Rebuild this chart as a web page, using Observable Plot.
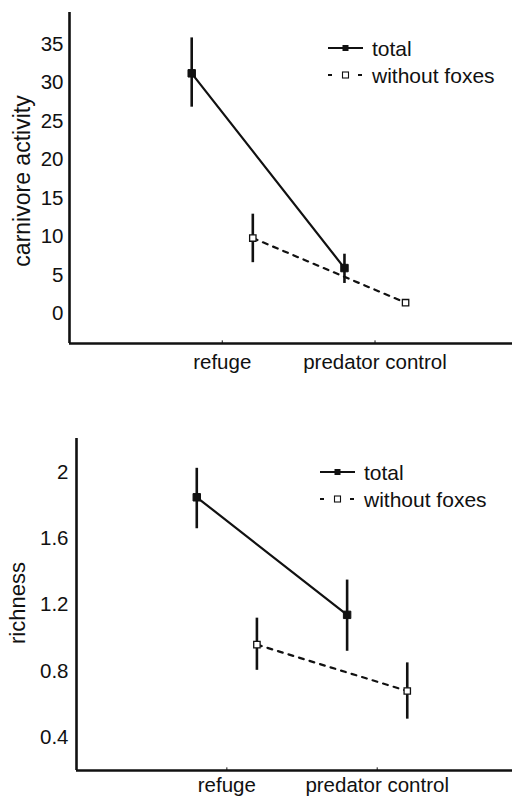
<!DOCTYPE html>
<html><head><meta charset="utf-8">
<script src="https://cdn.jsdelivr.net/npm/d3@7"></script>
<script src="https://cdn.jsdelivr.net/npm/@observablehq/plot@0.6"></script>
<style>
body{margin:0;background:#fff;font-family:"Liberation Sans",Arial,sans-serif;}
#wrap{position:relative;width:512px;height:798px;overflow:hidden;}
#wrap svg{display:block;}
.leg{position:absolute;}
</style></head><body><div id="wrap"></div>
<script>
// ---- data ----
const categories = ["refuge", "predator control"];
const seriesNames = ["total", "without foxes"];

const carnTotal   = [31.2, 5.9];
const carnTotalLo = [26.8, 3.9];
const carnTotalHi = [35.8, 7.7];
const carnNoFox   = [9.8, 1.4];
const carnNoFoxLo = [6.6, 1.2];
const carnNoFoxHi = [12.9, 1.6];
const carnTicks   = [0, 5, 10, 15, 20, 25, 30, 35];

const richTotal   = [1.85, 1.14];
const richTotalLo = [1.66, 0.92];
const richTotalHi = [2.025, 1.35];
const richNoFox   = [0.96, 0.68];
const richNoFoxLo = [0.805, 0.51];
const richNoFoxHi = [1.12, 0.85];
const richTicks   = [0.4, 0.8, 1.2, 1.6, 2];

const FONT = '"Liberation Sans", Arial, sans-serif';
const INK = "#111";

function rows(tot, totLo, totHi, nf, nfLo, nfHi) {
  const out = [];
  categories.forEach((c, i) => {
    out.push({cat: c, idx: i + 1, series: seriesNames[0], x: i + 1 - 0.2, y: tot[i], lo: totLo[i], hi: totHi[i]});
    out.push({cat: c, idx: i + 1, series: seriesNames[1], x: i + 1 + 0.2, y: nf[i], lo: nfLo[i], hi: nfHi[i]});
  });
  return out;
}

function chart(o) {
  const data = o.data;
  const tot = data.filter(d => d.series === seriesNames[0]);
  const nf = data.filter(d => d.series === seriesNames[1]);
  const [y0, y1] = o.yDomain;
  const svg = Plot.plot({
    width: 512,
    height: o.height,
    marginTop: o.marginTop,
    marginBottom: o.marginBottom,
    marginLeft: o.marginLeft,
    marginRight: 0,
    style: {fontFamily: FONT, fontSize: "20.5px", color: INK, background: "white"},
    x: {domain: [0, o.xMax], axis: null},
    y: {domain: o.yDomain, axis: null},
    marks: [
      Plot.axisY({ticks: o.yTicks, tickSize: 0, tickPadding: o.yPad, label: null, tickFormat: o.fmt, fill: INK}),
      Plot.axisX({ticks: [1, 2], tickSize: 0, tickPadding: o.xPad, label: null, tickFormat: d => categories[d - 1], fill: INK}),
      Plot.ruleX([1, 2], {y1: y0, y2: y0 + (y1 - y0) * 0.008, stroke: INK, strokeWidth: 1}),
      Plot.ruleX([0], {y1: y0, y2: y1, stroke: INK, strokeWidth: 2.6}),
      Plot.ruleY([y0], {x1: 0, x2: o.xMax, stroke: INK, strokeWidth: 2.6}),
      Plot.line(tot, {x: "x", y: "y", stroke: INK, strokeWidth: 2.2}),
      Plot.line(nf, {x: "x", y: "y", stroke: INK, strokeWidth: 2.2, strokeDasharray: "5,6"}),
      Plot.ruleX(data, {x: "x", y1: "lo", y2: "hi", stroke: INK, strokeWidth: 2.6}),
      Plot.dot(tot, {x: "x", y: "y", symbol: "square", r: 4.2, fill: INK, stroke: INK, strokeWidth: 1}),
      Plot.dot(nf, {x: "x", y: "y", symbol: "square", r: 3.6, fill: "white", stroke: INK, strokeWidth: 1.3})
    ]
  });
  d3.select(svg).append("text")
    .attr("transform", `translate(${o.labelX},${o.labelY}) rotate(-90)`)
    .attr("text-anchor", "middle")
    .attr("dominant-baseline", "central")
    .attr("font-size", o.labelSize)
    .attr("fill", INK)
    .text(o.yLabel);
  return svg;
}

function legend(x, y) {
  const s = d3.create("svg").attr("class", "leg").attr("width", 190).attr("height", 60)
    .style("left", x + "px").style("top", y + "px").style("position", "absolute");
  s.append("line").attr("x1", 0).attr("x2", 35).attr("y1", 14).attr("y2", 14).attr("stroke", INK).attr("stroke-width", 2.2);
  s.append("rect").attr("x", 14.5).attr("y", 11).attr("width", 6).attr("height", 6).attr("fill", INK);
  s.append("text").attr("x", 44).attr("y", 14).attr("dominant-baseline", "central").attr("font-size", "21px").attr("fill", INK).attr("font-family", FONT).text(seriesNames[0]);
  s.append("line").attr("x1", 0).attr("x2", 4).attr("y1", 41).attr("y2", 41).attr("stroke", INK).attr("stroke-width", 2);
  s.append("line").attr("x1", 30).attr("x2", 34).attr("y1", 41).attr("y2", 41).attr("stroke", INK).attr("stroke-width", 2);
  s.append("rect").attr("x", 14.5).attr("y", 38).attr("width", 6).attr("height", 6).attr("fill", "white").attr("stroke", INK).attr("stroke-width", 1.1);
  s.append("text").attr("x", 44).attr("y", 41).attr("dominant-baseline", "central").attr("font-size", "21px").attr("fill", INK).attr("font-family", FONT).text(seriesNames[1]);
  return s.node();
}

const wrap = document.getElementById("wrap");

const chartTop = chart({
  data: rows(carnTotal, carnTotalLo, carnTotalHi, carnNoFox, carnNoFoxLo, carnNoFoxHi),
  height: 400, marginTop: 12, marginBottom: 57, marginLeft: 69,
  xMax: 2.9, yDomain: [-3.9, 39.1], yTicks: carnTicks, yPad: 6, xPad: 11, fmt: d3.format("d"),
  yLabel: "carnivore activity", labelX: 22, labelY: 181, labelSize: "23px"
});
const chartBottom = chart({
  data: rows(richTotal, richTotalLo, richTotalHi, richNoFox, richNoFoxLo, richNoFoxHi),
  height: 398, marginTop: 38, marginBottom: 28, marginLeft: 76,
  xMax: 2.9, yDomain: [0.2, 2.205], yTicks: richTicks, yPad: 8, xPad: 7, fmt: d => d === 2 ? "2" : d3.format(".1f")(d),
  yLabel: "richness", labelX: 17, labelY: 203, labelSize: "22px"
});
wrap.appendChild(chartTop);
wrap.appendChild(chartBottom);
wrap.appendChild(legend(328, 34));
wrap.appendChild(legend(320, 458));
</script></body></html>
